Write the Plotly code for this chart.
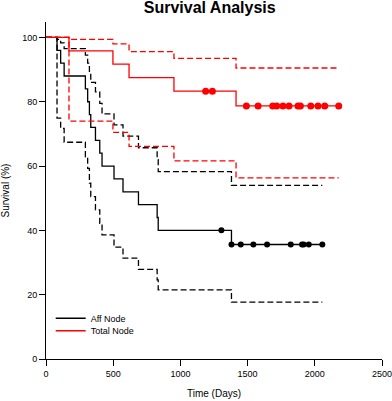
import plotly.graph_objects as go

# ---- Data ----
aff_days = [0, 82, 109, 135, 293, 310, 323, 333, 368, 400, 417, 506, 573, 688, 827, 835, 1380, 2056]
aff_surv = [100, 96, 92, 88, 84, 80, 76, 72, 68, 64, 60, 56, 52, 48, 44, 40, 35.6, 35.6]
aff_upper = [100, 99.4, 98.3, 96.5, 94.5, 92, 89, 86, 83.1, 79.5, 76.2, 72.8, 69.3, 65.7, 62, 58.3, 54, 54]
aff_lower = [100, 74.9, 71.7, 67.4, 62.9, 59.3, 54.7, 50.5, 46.4, 42.2, 38.6, 34.8, 31.4, 27.9, 24.6, 21.5, 17.7, 17.7]
aff_cens_days = [1305, 1380, 1449, 1543, 1645, 1821, 1905, 1917, 1955, 2056]
aff_cens_surv = [40, 35.6, 35.6, 35.6, 35.6, 35.6, 35.6, 35.6, 35.6, 35.6]

total_days = [0, 171, 498, 618, 952, 1414, 2178]
total_surv = [100, 95.8, 91.7, 87.5, 83.3, 78.7, 78.7]
total_upper = [100, 99.4, 98.0, 95.6, 93.5, 90.5, 90.5]
total_lower = [100, 74.0, 70.5, 66.1, 61.6, 56.3, 56.3]
total_cens_days = [1188, 1238, 1491, 1578, 1687, 1717, 1763, 1808, 1875, 1893, 1970, 2024, 2074, 2178]
total_cens_surv = [83.3, 83.3, 78.7, 78.7, 78.7, 78.7, 78.7, 78.7, 78.7, 78.7, 78.7, 78.7, 78.7, 78.7]

x_ticks = [0, 500, 1000, 1500, 2000, 2500]
y_ticks = [0, 20, 40, 60, 80, 100]

FONT = "Liberation Sans, Arial, sans-serif"
BLACK = "#000000"
RED = "#ff0000"
LW = 1.3
DASH = "6px,3px"

fig = go.Figure()

def add_group(days, surv, upper, lower, cdays, csurv, color, name, legend, msize):
    fig.add_trace(go.Scatter(x=days, y=upper, mode="lines", line=dict(color=color, width=LW, dash=DASH, shape="hv"),
                             showlegend=False, hoverinfo="skip"))
    fig.add_trace(go.Scatter(x=days, y=lower, mode="lines", line=dict(color=color, width=LW, dash=DASH, shape="hv"),
                             showlegend=False, hoverinfo="skip"))
    fig.add_trace(go.Scatter(x=days, y=surv, mode="lines", line=dict(color=color, width=LW, shape="hv"),
                             name=name, legend=legend))
    fig.add_trace(go.Scatter(x=cdays, y=csurv, mode="markers", marker=dict(color=color, size=msize, line=dict(width=0)),
                             showlegend=False))

add_group(aff_days, aff_surv, aff_upper, aff_lower, aff_cens_days, aff_cens_surv, BLACK, "Aff Node", "legend", 6)
add_group(total_days, total_surv, total_upper, total_lower, total_cens_days, total_cens_surv, RED, "Total Node", "legend2", 7)

W, H = 392, 401
L, R, T, B = 46.3, 9.7, 22, 41.7

axis_common = dict(showline=True, linecolor=BLACK, linewidth=1, ticks="outside", ticklen=6, tickwidth=1,
                   tickcolor=BLACK, showgrid=False, zeroline=False, automargin=False, ticklabeloverflow="allow",
                   tickfont=dict(family=FONT, size=9, color=BLACK))

def px_to_paper_x(px):
    return (px - L) / (W - L - R)

def px_to_paper_y(py):
    return (H - B - py) / (H - T - B)

fig.update_layout(
    width=W, height=H,
    margin=dict(l=L, r=R, t=T, b=B, pad=0, autoexpand=False),
    paper_bgcolor="white", plot_bgcolor="white",
    font=dict(family=FONT, color=BLACK),
    title=dict(text="<b>Survival Analysis</b>", x=px_to_paper_x(210), xref="paper", xanchor="center",
               y=1 - 1.5 / H, yref="container", yanchor="top", pad=dict(t=0, b=0, l=0, r=0),
               font=dict(family=FONT, size=16, color=BLACK)),
    xaxis=dict(range=[0, 2500], tickvals=x_ticks, ticktext=[str(v) for v in x_ticks],
               title=dict(text="Time (Days)", font=dict(family=FONT, size=10, color=BLACK), standoff=12),
               **axis_common),
    yaxis=dict(range=[0, 104.8], tickvals=y_ticks, ticktext=[str(v) for v in y_ticks],
               title=dict(text="Survival (%)", font=dict(family=FONT, size=10, color=BLACK), standoff=14),
               **axis_common),
    legend=dict(x=px_to_paper_x(51), y=px_to_paper_y(318.5), xanchor="left", yanchor="middle",
                bgcolor="rgba(0,0,0,0)", font=dict(family=FONT, size=9, color=BLACK), itemwidth=30),
    legend2=dict(x=px_to_paper_x(51), y=px_to_paper_y(331), xanchor="left", yanchor="middle",
                 bgcolor="rgba(0,0,0,0)", font=dict(family=FONT, size=9, color=BLACK), itemwidth=30),
    showlegend=True,
)

fig.write_html("out.html", config={"displayModeBar": False},
               post_script="document.body.style.margin='0';document.body.style.overflow='hidden';")
